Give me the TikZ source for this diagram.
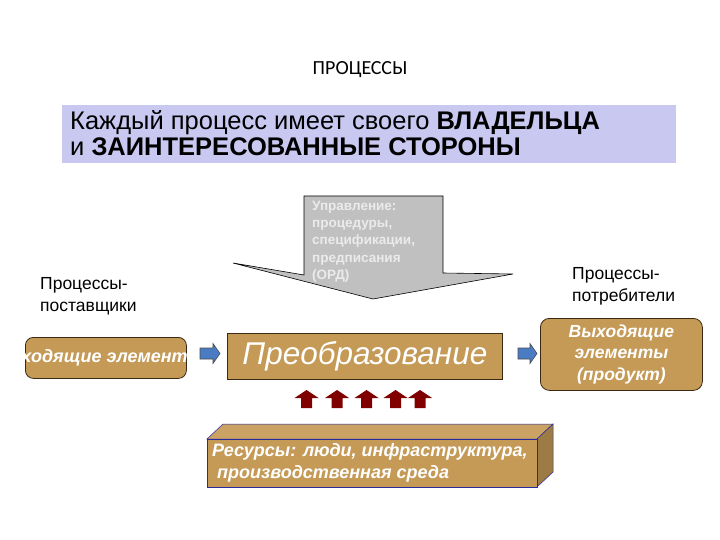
\documentclass[tikz,border=0pt]{standalone}
\usepackage{fontspec}
\setmainfont{Liberation Sans}
\newfontfamily\titlefont{Carlito}
\definecolor{brownbox}{HTML}{C49A56}
\definecolor{brownline}{HTML}{3A2A14}
\definecolor{banner}{HTML}{C8C8F0}
\definecolor{grayarrow}{HTML}{C0C0C0}
\definecolor{bluearrow}{HTML}{4A7CC4}
\definecolor{redarrow}{HTML}{800000}
\definecolor{navy}{HTML}{2A2AA0}
\tikzset{
  brownnode/.style={draw=brownline, line width=0.8pt, fill=brownbox, inner sep=0pt},
  whitetext/.style={text=white, font=\bfseries\itshape\fontsize{18}{22}\selectfont},
  bluearr/.style={draw=black!70, line width=0.6pt, fill=bluearrow},
  redarr/.style={fill=redarrow, draw=none},
  labeltext/.style={font=\fontsize{17.5}{22}\selectfont, align=left}
}
\begin{document}
\begin{tikzpicture}[x=1pt,y=-1pt]
\useasboundingbox[fill=white] (0,0) rectangle (720,540);

% title
\node[font=\titlefont\fontsize{20}{22}\selectfont] (title) at (360,70) {ПРОЦЕССЫ};

% banner
\node[fill=banner, minimum width=614pt, minimum height=58pt, anchor=north west, inner sep=0pt] (banner) at (62,105) {};
\node[anchor=west, align=left, inner sep=0pt, font=\fontsize{25.5}{26}\selectfont] (bannertext) at (70,133)
  {Каждый процесс имеет своего \textbf{ВЛАДЕЛЬЦА}\\и \textbf{ЗАИНТЕРЕСОВАННЫЕ СТОРОНЫ}};

% gray control arrow
\draw[fill=grayarrow, draw=black, line width=0.6pt]
  (304,196) -- (443,196) -- (443,273) -- (513,274) -- (373,299) -- (233,263) -- (304,275) -- cycle;
\node[anchor=north west, align=left, inner sep=0pt, text=white!92!black,
      font=\bfseries\fontsize{13.5}{17.2}\selectfont] (control) at (312,201)
  {Управление:\\процедуры,\\спецификации,\\предписания\\(ОРД)};

% side labels
\node[labeltext, anchor=north west, inner sep=0pt] (suppliers) at (40,277) {Процессы-\\поставщики};
\node[labeltext, anchor=north west, inner sep=0pt] (consumers) at (572,267) {Процессы-\\потребители};

% input box (clipped text)
\node[brownnode, rounded corners=8pt, minimum width=161pt, minimum height=41pt, anchor=north west] (input) at (25,337) {};
\begin{scope}
  \clip[rounded corners=8pt] (25,337) rectangle (186,378);
  \node[whitetext, font=\bfseries\itshape\fontsize{18}{20}\selectfont] (inputtext) at (input.center) {Входящие элементы};
\end{scope}

% transformation box
\node[brownnode, minimum width=275pt, minimum height=46pt, anchor=north west] (transform) at (227,333) {};
\node[text=white, font=\itshape\fontsize{31.5}{34}\selectfont] (transformtext) at (transform.center) {Преобразование};

% output box
\node[brownnode, rounded corners=9pt, minimum width=162pt, minimum height=72pt, anchor=north west] (output) at (540,318) {};
\node[whitetext, align=center, font=\bfseries\itshape\fontsize{17.5}{21.5}\selectfont] (outputtext) at (output.center) {Выходящие\\элементы\\(продукт)};

% blue arrows
\draw[bluearr] (200,348) -- (213,348) -- (213,343.5) -- (220,353.5) -- (213,363.5) -- (213,359) -- (200,359) -- cycle;
\draw[bluearr] (518,348) -- (530,348) -- (530,343.5) -- (537,353.5) -- (530,363.5) -- (530,359) -- (518,359) -- cycle;

% red arrows
\foreach \cx in {306.5,337,366.5,395.5,420} {
  \fill[redarr] (\cx-5.5,408) -- (\cx-5.5,398) -- (\cx-12,398) -- (\cx,390) -- (\cx+12,398) -- (\cx+5.5,398) -- (\cx+5.5,408) -- cycle;
}

% resources 3D box
\draw[draw=navy, line width=0.5pt, fill=brownbox!92!white] (207,439) -- (223,424) -- (553,424) -- (537,439) -- cycle;
\draw[draw=navy, line width=0.5pt, fill=brownbox!80!black] (537,439) -- (553,424) -- (553,472) -- (537,487) -- cycle;
\node[draw=navy, line width=0.5pt, fill=brownbox, minimum width=330pt, minimum height=48pt, anchor=north west, inner sep=0pt] (resources) at (207,439) {};
\node[whitetext, anchor=north west, align=left, inner sep=0pt] (resourcestext) at (212,443)
  {Ресурсы: люди, инфраструктура,\\\hspace*{5pt}производственная среда};
\end{tikzpicture}
\end{document}
